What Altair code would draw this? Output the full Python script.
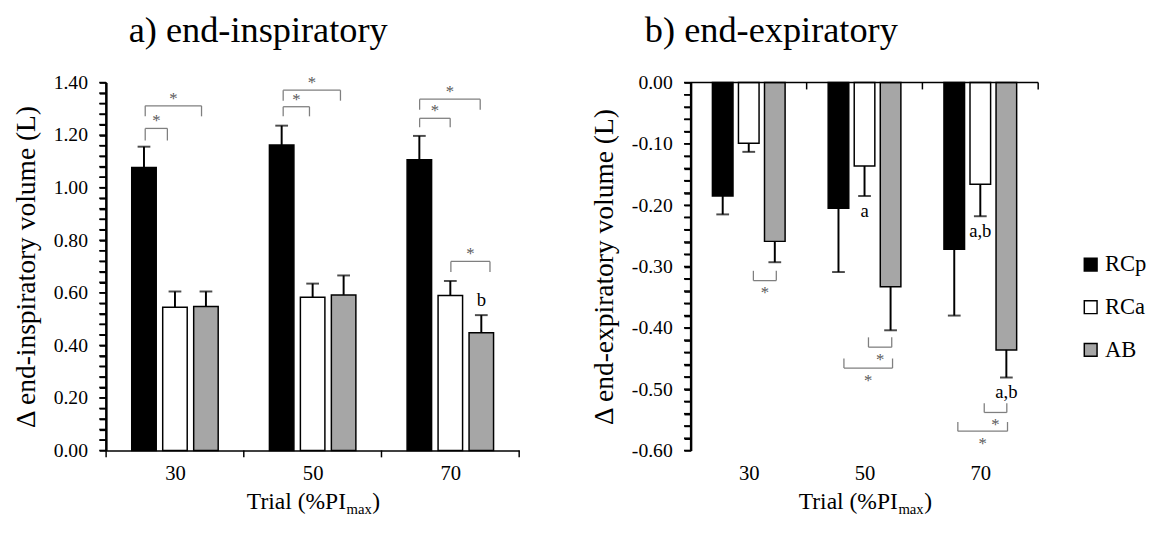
import altair as alt
import pandas as pd

FONT = "Liberation Serif"

trials = ["30", "50", "70"]
groups = ["RCp", "RCa", "AB"]
group_fill = ["#000000", "#ffffff", "#a6a6a6"]

# a) change in end-inspiratory volume (L), mean and error per trial
insp_rcp = [1.077, 1.162, 1.106]
insp_rca = [0.545, 0.583, 0.590]
insp_ab = [0.548, 0.592, 0.448]
insp_rcp_err = [0.079, 0.074, 0.091]
insp_rca_err = [0.060, 0.052, 0.055]
insp_ab_err = [0.057, 0.074, 0.067]

# b) change in end-expiratory volume (L)
exp_rcp = [-0.185, -0.205, -0.272]
exp_rca = [-0.099, -0.136, -0.166]
exp_ab = [-0.259, -0.333, -0.436]
exp_rcp_err = [0.030, 0.104, 0.108]
exp_rca_err = [0.014, 0.049, 0.052]
exp_ab_err = [0.034, 0.071, 0.045]

# significance brackets: (start, end on trial axis, line level, leg end level)
insp_brackets = [
    (0.284, 0.445, 1.2255, 1.1795),
    (0.284, 0.693, 1.3115, 1.2715),
    (1.286, 1.477, 1.308, 1.2715),
    (1.286, 1.702, 1.371, 1.331),
    (2.277, 2.499, 1.264, 1.230),
    (2.277, 2.717, 1.3366, 1.2966),
    (2.504, 2.788, 0.7195, 0.6795),
]
exp_brackets = [
    (0.540, 0.738, -0.323, -0.307),
    (1.534, 1.735, -0.4315, -0.4155),
    (1.322, 1.742, -0.4656, -0.450),
    (2.534, 2.729, -0.538, -0.523),
    (2.306, 2.735, -0.5686, -0.5536),
]
# letter marks: (trial index, group, text)
insp_letters = [(2, "AB", "b")]
exp_letters = [(1, "RCa", "a"), (2, "RCa", "a,b"), (2, "AB", "a,b")]

insp_y_ticks = [round(i * 0.04, 2) for i in range(36)]
exp_y_ticks = [round(-i * 0.02, 2) for i in range(31)]

PITCH = 0.225
BAR_W = 0.178
H = 375
TICK = 7


def bar_table(means, errs):
    rows = []
    for gi, g in enumerate(groups):
        for ti, t in enumerate(trials):
            c = ti + 0.5 + (gi - 1) * PITCH
            m = means[gi][ti]
            e = errs[gi][ti]
            end = m + e if m >= 0 else m - e
            rows.append({"group": g, "trial": t, "x": c - BAR_W / 2, "x2": c + BAR_W / 2,
                         "xc": c, "mean": m, "end": end, "ti": ti})
    return pd.DataFrame(rows)


def panel(means, errs, brackets, letters, ydomain, yticks, ylabel_expr, ytitle,
          title, title_x, width, top_axis, legend):
    df = bar_table(means, errs)
    xscale = alt.Scale(domain=[0, 3], nice=False, zero=False)
    yscale = alt.Scale(domain=ydomain, nice=False, zero=False)
    lab = "datum.value < 1 ? '%s' : datum.value < 2 ? '%s' : '%s'" % tuple(trials)
    xaxis = alt.Axis(values=[0.5, 1.5, 2.5], labelExpr=lab, ticks=False, tickSize=0,
                     domain=not top_axis, domainColor="black", domainWidth=1.5,
                     grid=False, title=None, labelFont=FONT, labelFontSize=21,
                     labelColor="black", labelPadding=13, labelFlush=False)
    yaxis = alt.Axis(values=yticks, labelExpr=ylabel_expr, title=ytitle, grid=False,
                     ticks=True, tickSize=TICK, tickWidth=1.6, tickColor="black",
                     domain=True, domainColor="black", domainWidth=2,
                     labelFont=FONT, labelFontSize=20, labelColor="black",
                     labelPadding=12, labelOverlap=False, labelBound=False,
                     titleFont=FONT, titleFontSize=28,
                     titleFontWeight="normal", titleColor="black", titlePadding=13)

    def X(f):
        return alt.X(f, scale=xscale, axis=xaxis)

    def Y(f):
        return alt.Y(f, scale=yscale, axis=yaxis)

    if legend:
        leg = alt.Legend(title=None, orient="none", legendX=396, legendY=174,
                         symbolType="square", symbolSize=169, symbolStrokeColor="black",
                         symbolStrokeWidth=1.5, labelFont=FONT, labelFontSize=23,
                         labelColor="black", rowPadding=19.5, labelOffset=3, padding=0)
    else:
        leg = None
    fill = alt.Fill("group:N", scale=alt.Scale(domain=groups, range=group_fill), legend=leg)

    bars = alt.Chart(df).mark_rect(stroke="black", strokeWidth=1.5).encode(
        x=X("x:Q"), x2="x2:Q", y=Y("mean:Q"), y2=alt.datum(0), fill=fill)
    err = alt.Chart(df).mark_rule(color="black", strokeWidth=2).encode(
        x=X("xc:Q"), y=Y("mean:Q"), y2="end:Q")
    caps = alt.Chart(df).mark_tick(color="black", thickness=2, size=13,
                                   orient="horizontal").encode(x=X("xc:Q"), y=Y("end:Q"))

    # y axis line (at the left edge of the trial axis) and its tick marks
    ytdf = pd.DataFrame({"v": yticks})
    yticks_mark = alt.Chart(ytdf).mark_rule(color="black", strokeWidth=1.6).encode(
        y=Y("v:Q"), x=alt.value(-TICK), x2=alt.value(0))
    spine_df = pd.DataFrame({"x": [0.0], "v": [ydomain[0]], "v2": [ydomain[1]]})
    ydomain_mark = alt.Chart(spine_df).mark_rule(color="black", strokeWidth=2).encode(
        x=X("x:Q"), y=Y("v:Q"), y2="v2:Q")

    segs = []
    stars = []
    for (a, b, lvl, legv) in brackets:
        segs.append({"x": a, "x2": b, "y": lvl, "y2": lvl})
        segs.append({"x": a, "x2": a, "y": lvl, "y2": legv})
        segs.append({"x": b, "x2": b, "y": lvl, "y2": legv})
        stars.append({"x": (a + b) / 2, "y": lvl})
    segdf = pd.DataFrame(segs)
    stardf = pd.DataFrame(stars)
    brk = alt.Chart(segdf).mark_rule(color="#7f7f7f", strokeWidth=1.3).encode(
        x=X("x:Q"), x2="x2:Q", y=Y("y:Q"), y2="y2:Q")
    star_dy = -7 if not top_axis else 13
    st = alt.Chart(stardf).mark_text(text="*", font=FONT, fontSize=17, color="#5a5a5a",
                                     baseline="middle", dy=star_dy).encode(x=X("x:Q"), y=Y("y:Q"))

    lrows = []
    for ti, g, txt in letters:
        r = df[(df.ti == ti) & (df.group == g)].iloc[0]
        lrows.append({"x": r.xc, "y": r.end, "t": txt})
    ldf = pd.DataFrame(lrows)
    let_dy = -15 if not top_axis else 15
    lt = alt.Chart(ldf).mark_text(font=FONT, fontSize=19, color="black", baseline="middle",
                                  dy=let_dy).encode(x=X("x:Q"), y=Y("y:Q"), text="t:N")

    tdf = pd.DataFrame({"x": [0, 1, 2, 3]})
    if top_axis:
        ticks = alt.Chart(tdf).mark_rule(color="black", strokeWidth=1.5).encode(
            x=X("x:Q"), y=alt.value(0), y2=alt.value(TICK))
        line = alt.Chart(pd.DataFrame({"x": [0], "x2": [3]})).mark_rule(
            color="black", strokeWidth=1.5).encode(x=X("x:Q"), x2="x2:Q", y=alt.value(0))
        extra = [ticks, line]
    else:
        ticks = alt.Chart(tdf).mark_rule(color="black", strokeWidth=1.5).encode(
            x=X("x:Q"), y=alt.value(H), y2=alt.value(H + TICK))
        extra = [ticks]

    ttl = alt.Chart(pd.DataFrame({"t": [title]})).mark_text(
        font=FONT, fontSize=37, color="black", align="center", baseline="alphabetic").encode(
        x=alt.value(title_x), y=alt.value(-41), text="t:N")

    split = width / 2 + 34
    sub_fs = 15
    xt_main = alt.Chart(pd.DataFrame({"t": ["Trial (%PI"]})).mark_text(
        font=FONT, fontSize=24, color="black", align="right", baseline="alphabetic").encode(
        x=alt.value(split), y=alt.value(H + 60), text="t:N")
    xt_sub = alt.Chart(pd.DataFrame({"t": ["max"]})).mark_text(
        font=FONT, fontSize=sub_fs, color="black", align="left", baseline="alphabetic").encode(
        x=alt.value(split + 0.5), y=alt.value(H + 65), text="t:N")
    xt_close = alt.Chart(pd.DataFrame({"t": [")"]})).mark_text(
        font=FONT, fontSize=24, color="black", align="left", baseline="alphabetic").encode(
        x=alt.value(split + 1.722 * sub_fs + 1), y=alt.value(H + 60), text="t:N")

    return alt.layer(bars, err, caps, brk, st, lt, *extra,
                     ttl, xt_main, xt_sub, xt_close, yticks_mark, ydomain_mark).properties(
        width=width, height=H)


left = panel([insp_rcp, insp_rca, insp_ab], [insp_rcp_err, insp_rca_err, insp_ab_err],
             insp_brackets, insp_letters, [0, 1.4], insp_y_ticks,
             "round(datum.value*100) % 20 == 0 ? format(datum.value, '.2f') : ''",
             "Δ end-inspiratory volume (L)", "a) end-inspiratory", 155, 421, False, False)
right = panel([exp_rcp, exp_rca, exp_ab], [exp_rcp_err, exp_rca_err, exp_ab_err],
              exp_brackets, exp_letters, [-0.6, 0], exp_y_ticks,
              "round(datum.value*100) % 10 == 0 ? (datum.value < -0.0001 ? '-' + format(-datum.value, '.2f') : '0.00') : ''",
              "Δ end-expiratory volume (L)", "b) end-expiratory", 82, 354, True, True)

chart = alt.hconcat(left, right, spacing=72).resolve_scale(fill="independent").properties(
    padding={"left": 5, "top": 0, "right": 5, "bottom": 5}, background="white"
).configure_view(stroke=None).configure_axisY(
    domainColor="black", tickColor="black", domainWidth=2, tickWidth=1.6
)

chart.save("out.html", embed_options={"renderer": "svg", "actions": False})
